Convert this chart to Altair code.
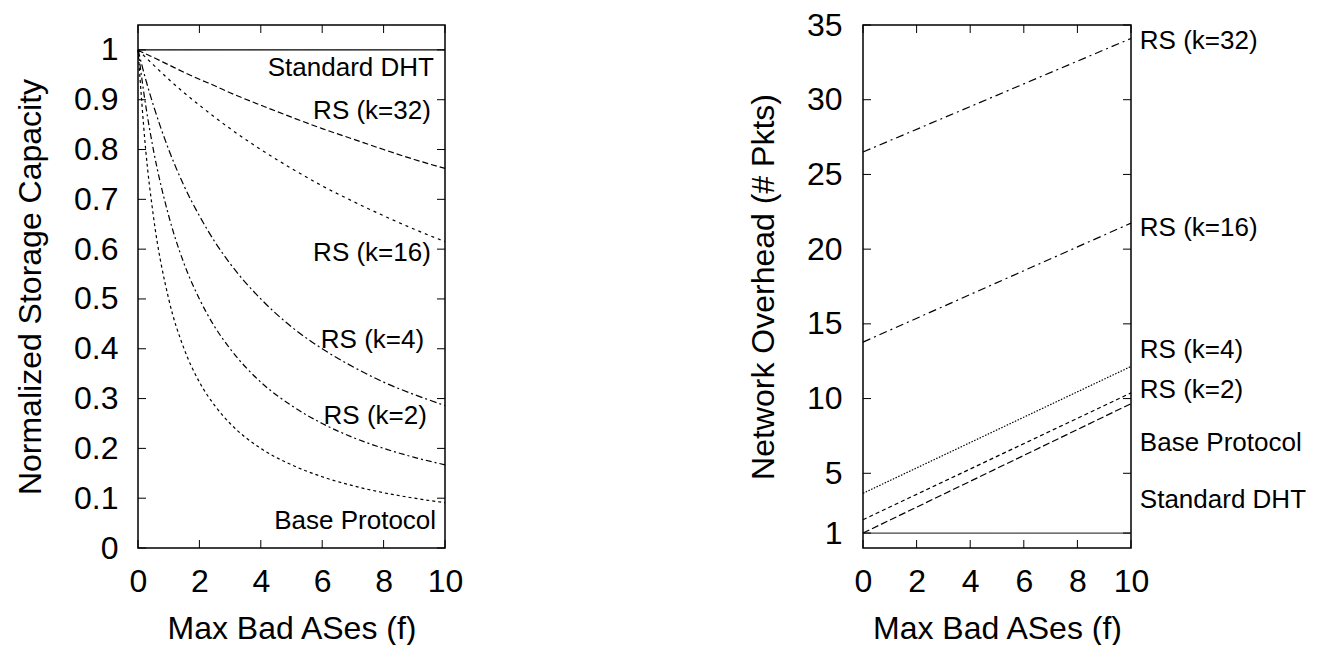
import altair as alt
import pandas as pd

# ---------------- data ----------------
f_left = [0, 0.25, 0.5, 1, 1.5, 2, 2.5, 3, 4, 5, 6, 7, 8, 9, 10]
std_left = [1.0, 1.0, 1.0, 1.0, 1.0, 1.0, 1.0, 1.0, 1.0, 1.0, 1.0, 1.0, 1.0, 1.0, 1.0]
rs32_left = [1.0, 0.992, 0.985, 0.970, 0.955, 0.941, 0.928, 0.914, 0.889, 0.865, 0.842, 0.821, 0.800, 0.780, 0.762]
rs16_left = [1.0, 0.985, 0.970, 0.941, 0.914, 0.889, 0.865, 0.842, 0.800, 0.762, 0.727, 0.696, 0.667, 0.640, 0.615]
rs4_left = [1.0, 0.941, 0.889, 0.800, 0.727, 0.667, 0.615, 0.571, 0.500, 0.444, 0.400, 0.364, 0.333, 0.308, 0.286]
rs2_left = [1.0, 0.889, 0.800, 0.667, 0.571, 0.500, 0.444, 0.400, 0.333, 0.286, 0.250, 0.222, 0.200, 0.182, 0.167]
base_left = [1.0, 0.800, 0.667, 0.500, 0.400, 0.333, 0.286, 0.250, 0.200, 0.167, 0.143, 0.125, 0.111, 0.100, 0.091]

f_right = [0, 10]
std_right = [1.0, 1.0]
base_right = [1.0, 9.66]
rs2_right = [1.89, 10.38]
rs4_right = [3.66, 12.15]
rs16_right = [13.78, 21.74]
rs32_right = [26.5, 34.1]

left_labels = ["Standard DHT", "RS (k=32)", "RS (k=16)", "RS (k=4)", "RS (k=2)", "Base Protocol"]
left_label_x = [9.64, 9.54, 9.54, 9.32, 9.41, 9.71]
left_label_y = [0.963, 0.877, 0.593, 0.417, 0.266, 0.055]

right_labels = ["RS (k=32)", "RS (k=16)", "RS (k=4)", "RS (k=2)", "Base Protocol", "Standard DHT"]
right_label_x = [10.33, 10.33, 10.33, 10.33, 10.33, 10.33]
right_label_y = [33.9, 21.4, 13.26, 10.58, 7.05, 3.2]

x_ticks = [0, 2, 4, 6, 8, 10]
left_y_ticks = [0, 0.1, 0.2, 0.3, 0.4, 0.5, 0.6, 0.7, 0.8, 0.9, 1.0]
right_y_ticks = [1, 5, 10, 15, 20, 25, 30, 35]

FONT = "Liberation Sans"
TICK_FS = 32
LABEL_FS = 26
TICK_LEN = 8
W_LEFT, W_RIGHT, H = 307, 268, 523


def make_panel(series, labels, lx, ly, label_align, ydomain, yticks, yfmt,
               ytitle, width, height, ylabel_pad, ytitle_pad):
    xs = alt.Scale(domain=[0, 10], nice=False, zero=False)
    ys = alt.Scale(domain=ydomain, nice=False, zero=False)
    xaxis = alt.Axis(values=x_ticks, title="Max Bad ASes (f)", ticks=False, domain=False,
                     grid=False, labelPadding=18, titlePadding=16, labelFontSize=TICK_FS,
                     titleFontSize=TICK_FS, labelFont=FONT, titleFont=FONT,
                     labelColor="black", titleColor="black", titleFontWeight="normal",
                     labelFlush=False)
    yaxis = alt.Axis(values=yticks, title=ytitle, ticks=False, domain=False, grid=False,
                     format=yfmt, labelPadding=ylabel_pad, titlePadding=ytitle_pad,
                     labelFontSize=TICK_FS, titleFontSize=TICK_FS, labelFont=FONT,
                     titleFont=FONT, labelColor="black", titleColor="black",
                     titleFontWeight="normal", labelFlush=False)
    X = lambda: alt.X("f:Q", scale=xs, axis=xaxis, title="Max Bad ASes (f)")
    Y = lambda: alt.Y("v:Q", scale=ys, axis=yaxis, title=ytitle)
    layers = []
    for name, fx, vals, dash, color, sw in series:
        df = pd.DataFrame({"f": fx, "v": vals})
        layers.append(alt.Chart(df).mark_line(strokeDash=dash, color=color, strokeWidth=sw,
                                              interpolate="monotone").encode(x=X(), y=Y()))

    tdf = pd.DataFrame({"label": labels, "f": lx, "v": ly})
    layers.append(alt.Chart(tdf).mark_text(align=label_align, baseline="middle",
                                           fontSize=LABEL_FS, font=FONT, color="black").encode(
        x=X(), y=Y(), text="label:N"))

    xt = pd.DataFrame({"f": x_ticks})
    yt = pd.DataFrame({"v": yticks})
    bottom = alt.Chart(xt).mark_rule(color="black", strokeWidth=1).encode(
        x=X(), y=alt.value(height), y2=alt.value(height - TICK_LEN))
    top = alt.Chart(xt).mark_rule(color="black", strokeWidth=1).encode(
        x=X(), y=alt.value(0), y2=alt.value(TICK_LEN))
    left = alt.Chart(yt).mark_rule(color="black", strokeWidth=1).encode(
        y=Y(), x=alt.value(0), x2=alt.value(TICK_LEN))
    right = alt.Chart(yt).mark_rule(color="black", strokeWidth=1).encode(
        y=Y(), x=alt.value(width - TICK_LEN), x2=alt.value(width))
    layers += [bottom, top, left, right]
    return alt.layer(*layers).properties(width=width, height=height)


left_series = [
    ("Standard DHT", f_left, std_left, [1, 0], "black", 1.2),
    ("RS (k=32)", f_left, rs32_left, [6, 3], "black", 1.2),
    ("RS (k=16)", f_left, rs16_left, [3, 4], "black", 1.2),
    ("RS (k=4)", f_left, rs4_left, [7, 3, 2, 3], "black", 1.2),
    ("RS (k=2)", f_left, rs2_left, [6, 3, 2, 3], "black", 1.2),
    ("Base Protocol", f_left, base_left, [3, 3], "black", 1.2),
]
right_series = [
    ("Standard DHT", f_right, std_right, [1, 0], "#444444", 1.3),
    ("Base Protocol", f_right, base_right, [7, 3], "black", 1.2),
    ("RS (k=2)", f_right, rs2_right, [4, 3], "black", 1.2),
    ("RS (k=4)", f_right, rs4_right, [1.5, 1.5], "black", 1.2),
    ("RS (k=16)", f_right, rs16_right, [8, 4, 2, 4], "black", 1.2),
    ("RS (k=32)", f_right, rs32_right, [8, 4, 2, 4], "black", 1.2),
]

left_panel = make_panel(left_series, left_labels, left_label_x, left_label_y, "right",
                        [0, 1.05], left_y_ticks, "~g", "Normalized Storage Capacity",
                        W_LEFT, H, 20, 26)
right_panel = make_panel(right_series, right_labels, right_label_x, right_label_y, "left",
                         [0, 35], right_y_ticks, "d", "Network Overhead (# Pkts)",
                         W_RIGHT, H, 21, 26)

chart = alt.hconcat(left_panel, right_panel, spacing=282).properties(
    padding={"left": 5, "top": 0, "right": 5, "bottom": 0},
    background="white",
).configure_view(stroke="black", strokeWidth=1.5)

chart.save("out.html", embed_options={"renderer": "svg", "actions": False})
